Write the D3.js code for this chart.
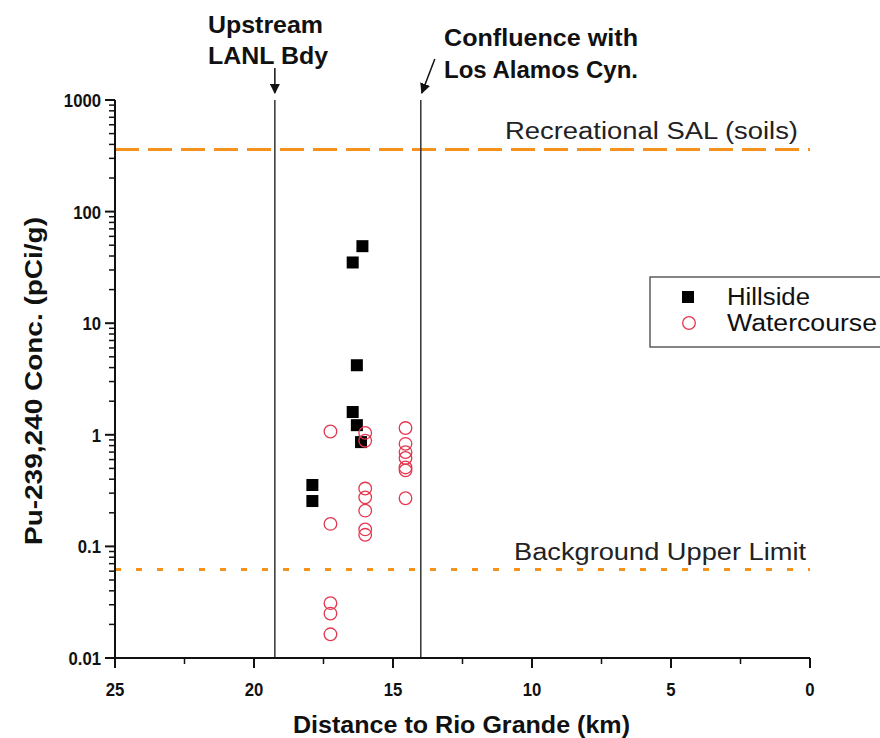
<!DOCTYPE html>
<html>
<head>
<meta charset="utf-8">
<script src="https://cdn.jsdelivr.net/npm/d3@7"></script>
<style>
  html, body { margin: 0; padding: 0; background: #fff; }
  svg { display: block; font-family: "Liberation Sans", Arial, Helvetica, sans-serif; }
</style>
</head>
<body>
<svg id="chart" width="880" height="738"></svg>
<script>
// Pu-239,240 concentrations (pCi/g) versus distance to the Rio Grande (km)
const hillsideKm    = [16.1, 16.45, 16.3, 16.45, 16.3, 16.15, 17.9, 17.9];
const hillsideConc  = [49, 35, 4.2, 1.6, 1.22, 0.86, 0.355, 0.255];

const watercourseKm   = [17.25, 17.25, 17.25, 17.25, 17.25,
                         16.0, 16.0, 16.0, 16.0, 16.0, 16.0, 16.0,
                         14.55, 14.55, 14.55, 14.55, 14.55, 14.55, 14.55];
const watercourseConc = [1.07, 0.159, 0.031, 0.025, 0.0163,
                         1.04, 0.885, 0.33, 0.275, 0.209, 0.142, 0.127,
                         1.15, 0.83, 0.70, 0.62, 0.51, 0.48, 0.27];

// reference levels
const recreationalSAL = 360;
const backgroundUpper = 0.062;

// landmarks along the canyon (km)
const upstreamBoundaryKm = 19.25;
const confluenceKm = 14.0;

const xTickValues = [25, 20, 15, 10, 5, 0];
const xMinorTicks = [22.5, 17.5, 12.5, 7.5, 2.5];
const yTickValues = [1000, 100, 10, 1, 0.1, 0.01];
const yTickLabels = ["1000", "100", "10", "1", "0.1", "0.01"];

const svg = d3.select("#chart");
const plotLeft = 115, plotRight = 810, plotTop = 100, plotBottom = 658;

const x = d3.scaleLinear().domain([25, 0]).range([plotLeft, plotRight]);
const y = d3.scaleLog().domain([0.01, 1000]).range([plotBottom, plotTop]);

const orange = "#f5911e";
const red = "#e4374f";

// minor ticks on log axis: 2..9 within each decade
const yMinor = [];
for (let e = -2; e < 3; e++) {
  for (let m = 2; m <= 9; m++) yMinor.push(m * Math.pow(10, e));
}

// reference lines
svg.append("line")
  .attr("x1", plotLeft).attr("x2", plotRight)
  .attr("y1", y(recreationalSAL)).attr("y2", y(recreationalSAL))
  .attr("stroke", orange).attr("stroke-width", 3)
  .attr("stroke-dasharray", "24,9");

svg.append("line")
  .attr("x1", plotLeft).attr("x2", plotRight)
  .attr("y1", y(backgroundUpper)).attr("y2", y(backgroundUpper))
  .attr("stroke", orange).attr("stroke-width", 3)
  .attr("stroke-dasharray", "6,15");

svg.append("text")
  .attr("x", 505).attr("y", y(recreationalSAL) - 11)
  .attr("font-size", 23).attr("textLength", 293).attr("lengthAdjust", "spacingAndGlyphs")
  .attr("fill", "#222")
  .text("Recreational SAL (soils)");

svg.append("text")
  .attr("x", 514).attr("y", y(backgroundUpper) - 10)
  .attr("font-size", 23).attr("textLength", 292).attr("lengthAdjust", "spacingAndGlyphs")
  .attr("fill", "#222")
  .text("Background Upper Limit");

// landmark vertical lines
[upstreamBoundaryKm, confluenceKm].forEach(k => {
  svg.append("line")
    .attr("x1", x(k)).attr("x2", x(k))
    .attr("y1", plotTop).attr("y2", plotBottom)
    .attr("stroke", "#333").attr("stroke-width", 1.5);
});

// arrows and annotations
const defs = svg.append("defs");
defs.append("marker")
  .attr("id", "arrow").attr("viewBox", "0 0 10 10")
  .attr("refX", 9).attr("refY", 5)
  .attr("markerWidth", 7).attr("markerHeight", 7)
  .attr("orient", "auto")
  .append("path").attr("d", "M0,0 L10,5 L0,10 Z").attr("fill", "#111");

svg.append("line")
  .attr("x1", x(upstreamBoundaryKm)).attr("x2", x(upstreamBoundaryKm))
  .attr("y1", 68).attr("y2", 93)
  .attr("stroke", "#111").attr("stroke-width", 1.5)
  .attr("marker-end", "url(#arrow)");

svg.append("line")
  .attr("x1", x(confluenceKm) + 14).attr("x2", x(confluenceKm) + 1)
  .attr("y1", 59).attr("y2", 93)
  .attr("stroke", "#111").attr("stroke-width", 1.5)
  .attr("marker-end", "url(#arrow)");

const notes = [
  {t: "Upstream", x: 208, y: 33, w: 115},
  {t: "LANL Bdy", x: 208, y: 64, w: 120},
  {t: "Confluence with", x: 444, y: 46, w: 194},
  {t: "Los Alamos Cyn.", x: 444, y: 78, w: 194}
];
svg.selectAll("text.note").data(notes).join("text")
  .attr("class", "note")
  .attr("x", d => d.x).attr("y", d => d.y)
  .attr("font-size", 23).attr("font-weight", "bold")
  .attr("textLength", d => d.w).attr("lengthAdjust", "spacingAndGlyphs")
  .attr("fill", "#111")
  .text(d => d.t);

// axes
const axisColor = "#111";
const yAxis = svg.append("g");
yAxis.append("line").attr("x1", plotLeft).attr("x2", plotLeft).attr("y1", plotTop).attr("y2", plotBottom)
  .attr("stroke", axisColor).attr("stroke-width", 2);
yAxis.selectAll("line.ymaj").data(yTickValues).join("line")
  .attr("class", "ymaj")
  .attr("x1", plotLeft - 10).attr("x2", plotLeft)
  .attr("y1", d => y(d)).attr("y2", d => y(d))
  .attr("stroke", axisColor).attr("stroke-width", 2);
yAxis.selectAll("line.ymin").data(yMinor).join("line")
  .attr("class", "ymin")
  .attr("x1", plotLeft - 6).attr("x2", plotLeft)
  .attr("y1", d => y(d)).attr("y2", d => y(d))
  .attr("stroke", axisColor).attr("stroke-width", 1.5);
// tick labels are set in a slightly condensed bold face
yAxis.selectAll("text").data(yTickValues).join("text")
  .attr("transform", d => `translate(${plotLeft - 14},${y(d) + 7}) scale(0.88,1)`)
  .attr("text-anchor", "end")
  .attr("font-size", 19).attr("font-weight", "bold").attr("fill", "#111")
  .text((d, i) => yTickLabels[i]);

const xAxis = svg.append("g");
xAxis.append("line").attr("x1", plotLeft).attr("x2", plotRight).attr("y1", plotBottom).attr("y2", plotBottom)
  .attr("stroke", axisColor).attr("stroke-width", 2);
xAxis.selectAll("line.xmaj").data(xTickValues).join("line")
  .attr("class", "xmaj")
  .attr("x1", d => x(d)).attr("x2", d => x(d))
  .attr("y1", plotBottom).attr("y2", plotBottom + 10)
  .attr("stroke", axisColor).attr("stroke-width", 2);
xAxis.selectAll("line.xmin").data(xMinorTicks).join("line")
  .attr("class", "xmin")
  .attr("x1", d => x(d)).attr("x2", d => x(d))
  .attr("y1", plotBottom).attr("y2", plotBottom + 6)
  .attr("stroke", axisColor).attr("stroke-width", 1.5);
xAxis.selectAll("text").data(xTickValues).join("text")
  .attr("transform", d => `translate(${x(d)},${plotBottom + 38}) scale(0.88,1)`)
  .attr("text-anchor", "middle")
  .attr("font-size", 19).attr("font-weight", "bold").attr("fill", "#111")
  .text(d => d);

svg.append("text")
  .attr("x", 293).attr("y", 733)
  .attr("font-size", 23).attr("font-weight", "bold").attr("fill", "#111")
  .attr("textLength", 337).attr("lengthAdjust", "spacingAndGlyphs")
  .text("Distance to Rio Grande (km)");

svg.append("text")
  .attr("transform", "translate(42,545) rotate(-90)")
  .attr("font-size", 23).attr("font-weight", "bold").attr("fill", "#111")
  .attr("textLength", 328).attr("lengthAdjust", "spacingAndGlyphs")
  .text("Pu-239,240 Conc. (pCi/g)");

// data marks
const sq = 12;
svg.selectAll("rect.hill").data(hillsideKm).join("rect")
  .attr("class", "hill")
  .attr("x", (d, i) => x(d) - sq / 2)
  .attr("y", (d, i) => y(hillsideConc[i]) - sq / 2)
  .attr("width", sq).attr("height", sq)
  .attr("fill", "#000");

svg.selectAll("circle.water").data(watercourseKm).join("circle")
  .attr("class", "water")
  .attr("cx", d => x(d))
  .attr("cy", (d, i) => y(watercourseConc[i]))
  .attr("r", 6.3)
  .attr("fill", "none").attr("stroke", red).attr("stroke-width", 1.3);

// legend
const lg = svg.append("g");
lg.append("rect").attr("x", 650).attr("y", 277).attr("width", 260).attr("height", 70)
  .attr("fill", "#fff").attr("stroke", "#444").attr("stroke-width", 1.3);
lg.append("rect").attr("x", 688 - 6).attr("y", 297 - 6).attr("width", 12).attr("height", 12).attr("fill", "#000");
lg.append("circle").attr("cx", 689).attr("cy", 323).attr("r", 6.3)
  .attr("fill", "none").attr("stroke", red).attr("stroke-width", 1.3);
lg.append("text").attr("x", 727).attr("y", 305).attr("font-size", 23).attr("fill", "#111")
  .attr("textLength", 83).attr("lengthAdjust", "spacingAndGlyphs").text("Hillside");
lg.append("text").attr("x", 727).attr("y", 331).attr("font-size", 23).attr("fill", "#111")
  .attr("textLength", 150).attr("lengthAdjust", "spacingAndGlyphs").text("Watercourse");
</script>
</body>
</html>
